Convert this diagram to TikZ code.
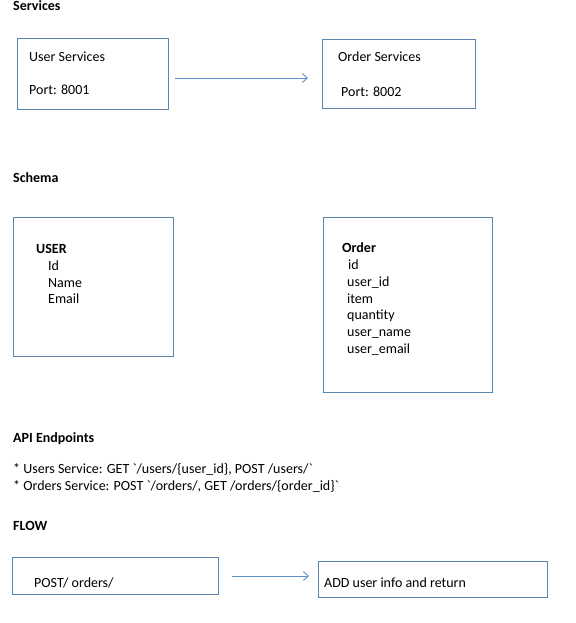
\documentclass[tikz,border=0pt]{standalone}
\usepackage{fontspec}
\setmainfont{Carlito}
\usetikzlibrary{arrows.meta}
\definecolor{boxc}{RGB}{90,133,176}
\definecolor{arrc}{RGB}{95,142,200}
\tikzset{
  box/.style={draw=boxc, line width=1pt, anchor=north west, inner sep=0pt},
  txt/.style={anchor=base west, inner sep=0pt, font=\fontsize{14}{17}\selectfont},
  hd/.style={txt, font=\fontsize{14}{17}\selectfont\bfseries},
  arr/.style={draw=arrc, line width=0.9pt, -{Straight Barb[length=5pt,width=9pt,line width=0.9pt]}}
}
\begin{document}
\begin{tikzpicture}[x=1pt,y=-1pt]
\useasboundingbox[fill=white] (0,0) rectangle (575,623);
% Services
\node[hd] (hserv) at (13,11) {Services};
\node[box, minimum width=151pt, minimum height=71pt] (us) at (17,38) {};
\node[txt] (ust) at (29,62) {User Services};
\node[txt] (usp) at (29,95) {Port: 8001};
\node[box, minimum width=153pt, minimum height=69pt] (os) at (322,39) {};
\node[txt] (ost) at (338,62) {Order Services};
\node[txt] (osp) at (341,96) {Port: 8002};
\coordinate (a1s) at (175,78);
\coordinate (a1e) at (308,78);
\draw[arr] (a1s) -- (a1e);
% Schema
\node[hd] (hsch) at (13,182) {Schema};
\node[box, minimum width=160pt, minimum height=139pt] (ub) at (13,217) {};
\node[hd] (ubt) at (36,253) {USER};
\node[txt] (u1) at (48,270) {Id};
\node[txt] (u2) at (48,287) {Name};
\node[txt] (u3) at (48,303) {Email};
\node[box, minimum width=169pt, minimum height=175pt] (ob) at (323,217) {};
\node[hd] (obt) at (342,252) {Order};
\node[txt] (o1) at (348,269) {id};
\node[txt] (o2) at (347,286) {user\_id};
\node[txt] (o3) at (347,303) {item};
\node[txt] (o4) at (347,319) {quantity};
\node[txt] (o5) at (347,336) {user\_name};
\node[txt] (o6) at (347,353) {user\_email};
% API
\node[hd] (hapi) at (13,442) {API Endpoints};
\node[txt] (api1) at (13,473) {* Users Service: GET \textasciigrave/users/\{user\_id\}, POST /users/\textasciigrave};
\node[txt] (api2) at (13,490) {* Orders Service: POST \textasciigrave/orders/, GET /orders/\{order\_id\}\textasciigrave};
% Flow
\node[hd] (hflow) at (13,530) {FLOW};
\node[box, minimum width=206pt, minimum height=37pt] (fb1) at (12,557) {};
\node[txt] (fb1t) at (34,587) {POST/ orders/};
\node[box, minimum width=229pt, minimum height=36pt] (fb2) at (318,561) {};
\node[txt] (fb2t) at (324,587) {ADD user info and return};
\coordinate (a2s) at (232,576);
\coordinate (a2e) at (309,576);
\draw[arr] (a2s) -- (a2e);
\end{tikzpicture}
\end{document}
